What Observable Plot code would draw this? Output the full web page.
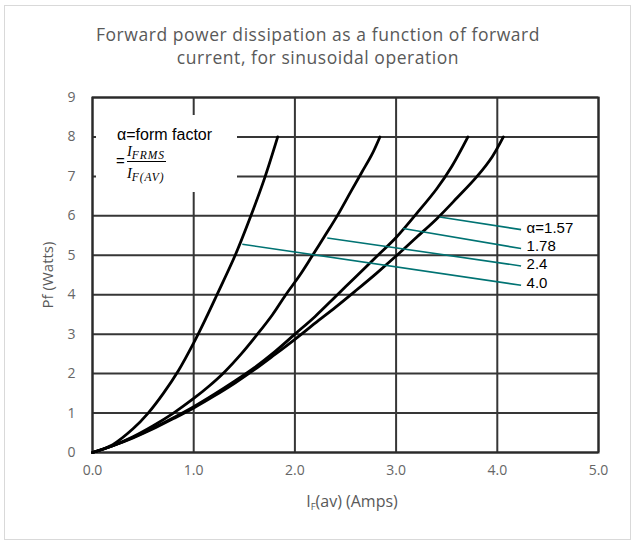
<!DOCTYPE html>
<html>
<head>
<meta charset="utf-8">
<script src="https://cdn.jsdelivr.net/npm/d3@7"></script>
<script src="https://cdn.jsdelivr.net/npm/@observablehq/plot@0.6"></script>
<style>
  body { margin: 0; background: #fff; }
  #wrap { position: relative; width: 632px; height: 542px; background: #fff; overflow: hidden; }
  #border { position: absolute; left: 4px; top: 5px; width: 627px; height: 535px; box-sizing: border-box; border: 1.5px solid #d9d9d9; }
  #title { position: absolute; left: 0; top: 23px; width: 636px; text-align: center; font-family: "Open Sans", sans-serif; font-size: 17.5px; letter-spacing: 0.55px; line-height: 23px; color: #595959; }
  #chart { position: absolute; left: 0; top: 80px; }
  #legend { position: absolute; left: 96px; top: 115px; width: 141px; height: 77px; background: #fff; font-family: "Liberation Sans", Arial, sans-serif; color: #000; }
  #legend .l1 { position: absolute; left: 21px; top: 11px; font-size: 16px; line-height: 18px; white-space: nowrap; }
  #legend .eq { position: absolute; left: 20px; top: 37px; font-size: 15px; line-height: 18px; }
  #legend .num, #legend .den { position: absolute; left: 31px; font-family: "Liberation Serif", "DejaVu Serif", serif; font-style: italic; font-size: 14.5px; line-height: 16px; white-space: nowrap; }
  #legend .num { top: 28px; }
  #legend .den { top: 50px; }
  #legend sub { font-size: 11.5px; vertical-align: -3px; letter-spacing: 0.9px; }
  #legend .bar { position: absolute; left: 31px; top: 45.5px; width: 39px; height: 1.3px; background: #000; }
</style>
</head>
<body>
<div id="wrap">
  <div id="border"></div>
  <div id="title">Forward power dissipation as a function of forward<br>current, for sinusoidal operation</div>
  <div id="chart"></div>
  <div id="legend">
    <div class="l1">α=form factor</div>
    <div class="eq">=</div>
    <div class="num">I<sub>FRMS</sub></div>
    <div class="bar"></div>
    <div class="den">I<sub>F(AV)</sub></div>
  </div>
</div>
<script>
// ---- data ----
const xTicks = [0, 1, 2, 3, 4, 5];
const yTicks = [0, 1, 2, 3, 4, 5, 6, 7, 8, 9];

// form factor alpha = 4.0
const currentA40 = [0, 0.2, 0.4, 0.55, 0.7, 0.85, 1.0, 1.12, 1.23, 1.41, 1.55, 1.7, 1.83];
const powerA40   = [0, 0.2, 0.6, 1.0, 1.5, 2.08, 2.78, 3.4, 4.0, 5.0, 5.9, 6.95, 8.0];

// alpha = 2.4
const currentA24 = [0, 0.2, 0.4, 0.6, 0.8, 1.0, 1.15, 1.3, 1.47, 1.63, 1.78, 1.91, 2.05, 2.17, 2.31, 2.43, 2.55, 2.66, 2.76, 2.84];
const powerA24   = [0, 0.17, 0.4, 0.68, 1.0, 1.37, 1.68, 2.03, 2.5, 3.0, 3.5, 4.0, 4.5, 4.98, 5.55, 6.05, 6.6, 7.1, 7.55, 8.0];

// alpha = 1.78
const currentA178 = [0, 0.2, 0.4, 0.6, 0.8, 1.0, 1.2, 1.4, 1.6, 1.8, 2.0, 2.2, 2.4, 2.6, 2.8, 3.0, 3.2, 3.4, 3.55, 3.71];
const powerA178   = [0, 0.17, 0.38, 0.62, 0.88, 1.16, 1.47, 1.8, 2.15, 2.55, 3.0, 3.45, 3.95, 4.45, 4.95, 5.45, 6.05, 6.68, 7.25, 8.0];

// alpha = 1.57
const currentA157 = [0, 0.2, 0.4, 0.6, 0.8, 1.0, 1.2, 1.4, 1.6, 1.8, 2.0, 2.2, 2.4, 2.6, 2.8, 3.0, 3.2, 3.4, 3.6, 3.8, 3.95, 4.06];
const powerA157   = [0, 0.17, 0.37, 0.6, 0.86, 1.13, 1.43, 1.75, 2.1, 2.48, 2.87, 3.28, 3.68, 4.1, 4.53, 4.98, 5.45, 5.92, 6.45, 7.0, 7.5, 8.0];

// annotation labels and their leader lines (data units)
const labelTexts   = ["α=1.57", "1.78", "2.4", "4.0"];
const labelX       = [4.26, 4.26, 4.26, 4.26];
const labelY       = [5.69, 5.23, 4.77, 4.29];
const leaderStartX = [3.43, 3.07, 2.32, 1.48];
const leaderStartY = [5.97, 5.68, 5.44, 5.28];
const leaderEndX   = [4.235, 4.235, 4.235, 4.235];
const leaderEndY   = [5.65, 5.17, 4.73, 4.24];

// ---- build tables ----
const series = [
  ["4.0", currentA40, powerA40],
  ["2.4", currentA24, powerA24],
  ["1.78", currentA178, powerA178],
  ["1.57", currentA157, powerA157]
];
const curveRows = series.flatMap(([a, xs, ys]) => xs.map((x, i) => ({alpha: a, current: x, power: ys[i]})));
const leaders = labelTexts.map((t, i) => ({x1: leaderStartX[i], y1: leaderStartY[i], x2: leaderEndX[i], y2: leaderEndY[i]}));
const labels = labelTexts.map((t, i) => ({text: t, x: labelX[i], y: labelY[i]}));

const chart = Plot.plot({
  width: 632,
  height: 460,
  marginLeft: 92,
  marginRight: 34,
  marginTop: 17,
  marginBottom: 88,
  style: {fontFamily: "'Open Sans', sans-serif", fontSize: "14px", color: "#666666", background: "transparent"},
  x: {domain: [0, 5], ticks: xTicks, tickFormat: d3.format(".1f"), tickSize: 0, tickPadding: 13, label: null},
  y: {domain: [0, 9], ticks: yTicks, tickSize: 0, tickPadding: 17, label: null},
  marks: [
    Plot.ruleX(xTicks, {stroke: "#363636", strokeWidth: 2}),
    Plot.ruleY(yTicks, {stroke: "#363636", strokeWidth: 2}),
    Plot.frame({stroke: "#2a2a2a", strokeWidth: 2}),
    Plot.line(curveRows, {x: "current", y: "power", z: "alpha", stroke: "#000", strokeWidth: 2.8, curve: "catmull-rom"}),
    Plot.link(leaders, {x1: "x1", y1: "y1", x2: "x2", y2: "y2", stroke: "#007373", strokeWidth: 1.6}),
    Plot.text(labels, {x: "x", y: "y", text: "text", textAnchor: "start", dx: 3, fill: "#000", fontSize: 15, fontFamily: "'Liberation Sans', Arial, sans-serif"})
  ]
});
document.getElementById("chart").appendChild(chart);

// axis titles
const svg = d3.select(chart);
svg.append("text")
  .attr("transform", "translate(49,195) rotate(-90)")
  .attr("text-anchor", "middle").attr("dominant-baseline", "middle")
  .attr("fill", "#595959").style("font-family", "'Open Sans', sans-serif").style("font-size", "15px")
  .text("Pf (Watts)");
const xl = svg.append("text")
  .attr("x", 352).attr("y", 427)
  .attr("text-anchor", "middle")
  .attr("fill", "#595959").style("font-family", "'Open Sans', sans-serif").style("font-size", "16px");
xl.append("tspan").text("I");
xl.append("tspan").attr("dy", 3).style("font-size", "9.5px").text("F");
xl.append("tspan").attr("dy", -3).text("(av) (Amps)");
</script>
</body>
</html>
